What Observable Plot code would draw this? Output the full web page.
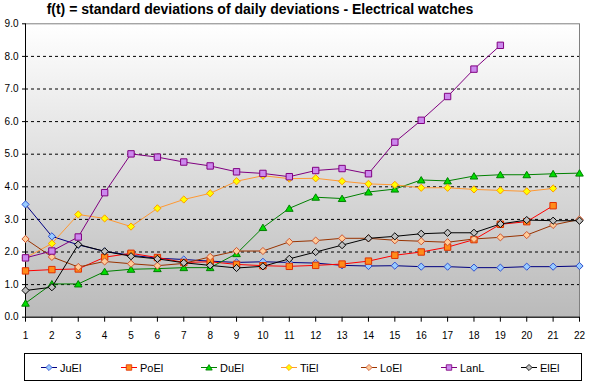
<!DOCTYPE html>
<html><head><meta charset="utf-8">
<script src="https://cdn.jsdelivr.net/npm/d3@7"></script>
<script src="https://cdn.jsdelivr.net/npm/@observablehq/plot@0.6"></script>
<style>
body{margin:0;background:#fff;font-family:"Liberation Sans",Arial,sans-serif}
#title{height:15px;line-height:18px;font-weight:bold;font-size:14px;width:520px;text-align:center;white-space:nowrap}
#legend{margin-left:24px;margin-top:3px;width:556px;height:26px;border:1px solid #000}
#legend svg{display:block}
</style></head>
<body>
<div id="title">f(t) = standard deviations of daily deviations - Electrical watches</div>
<div id="chart"></div>
<div id="legend"></div>
<script>
const days = [1,2,3,4,5,6,7,8,9,10,11,12,13,14,15,16,17,18,19,20,21,22];
const yTicks = [0,1,2,3,4,5,6,7,8,9];
const gridVals = [1,2,3,4,5,6,7,8];
const seriesNames = ["JuEl","PoEl","DuEl","TiEl","LoEl","LanL","ElEl"];
const JuEl = [3.46,2.48,2.22,2.02,1.90,1.81,1.77,1.72,1.68,1.70,1.68,1.66,1.59,1.57,1.58,1.55,1.55,1.52,1.52,1.55,1.55,1.57];
const PoEl = [1.42,1.46,1.48,1.84,1.96,1.83,1.68,1.70,1.62,1.58,1.56,1.59,1.63,1.72,1.90,2.00,2.15,2.38,2.85,2.93,3.42];
const DuEl = [0.43,1.02,1.02,1.40,1.47,1.49,1.52,1.52,1.95,2.75,3.34,3.68,3.64,3.84,3.93,4.21,4.18,4.33,4.37,4.37,4.40,4.42];
const TiEl = [1.82,2.26,3.15,3.03,2.78,3.34,3.61,3.80,4.17,4.34,4.25,4.26,4.17,4.09,4.06,3.97,3.97,3.92,3.89,3.86,3.95];
const LoEl = [2.40,1.85,1.54,1.71,1.64,1.58,1.65,1.85,2.03,2.03,2.31,2.35,2.42,2.42,2.36,2.33,2.30,2.40,2.45,2.52,2.83,3.00];
const LanL = [1.82,2.03,2.46,3.82,5.01,4.91,4.76,4.64,4.46,4.41,4.31,4.50,4.56,4.40,5.37,6.04,6.77,7.61,8.34];
const ElEl = [0.82,0.92,2.23,2.02,1.87,1.79,1.67,1.59,1.51,1.56,1.79,2.00,2.21,2.42,2.48,2.56,2.59,2.59,2.86,2.98,2.96,2.96];
const seriesValues = [JuEl,PoEl,DuEl,TiEl,LoEl,LanL,ElEl];

const diamond = {draw(c){c.moveTo(0,-3.6);c.lineTo(3.6,0);c.lineTo(0,3.6);c.lineTo(-3.6,0);c.closePath();}};
const square = {draw(c){c.moveTo(-3.2,-3.2);c.lineTo(3.2,-3.2);c.lineTo(3.2,3.2);c.lineTo(-3.2,3.2);c.closePath();}};
const triangle = {draw(c){c.moveTo(0,-3.4);c.lineTo(3.8,3);c.lineTo(-3.8,3);c.closePath();}};

const styles = [
  {line:"#000080", fill:"#99ccff", stroke:"#3050d0", sym:diamond},
  {line:"#ff0000", fill:"#ff8c1a", stroke:"#e03000", sym:square},
  {line:"#008000", fill:"#00dd00", stroke:"#008000", sym:triangle},
  {line:"#ff9933", fill:"#ffff00", stroke:"#ff9900", sym:diamond},
  {line:"#993300", fill:"#ffcc99", stroke:"#cc5533", sym:diamond},
  {line:"#800080", fill:"#cc88ee", stroke:"#800080", sym:square},
  {line:"#000000", fill:"#c0c0c0", stroke:"#000000", sym:diamond}
];

const seriesMarks = [];
seriesNames.forEach((name,k)=>{
  const data = seriesValues[k].map((v,i)=>({day:days[i], value:v}));
  const s = styles[k];
  seriesMarks.push(Plot.line(data,{x:"day",y:"value",stroke:s.line,strokeWidth:1}));
  seriesMarks.push(Plot.dot(data,{x:"day",y:"value",symbol:s.sym,r:3,fill:s.fill,stroke:s.stroke,strokeWidth:1}));
});

const chart = Plot.plot({
  width:590, height:335,
  marginTop:8.3, marginBottom:33.3, marginLeft:25, marginRight:11,
  x:{domain:[1,22], label:null},
  y:{domain:[0,9], label:null},
  style:{fontFamily:"Liberation Sans, Arial, sans-serif", fontSize:"10px", background:"transparent", color:"black", overflow:"visible"},
  marks:[
    Plot.frame({fill:"url(#bg)", stroke:"#808080"}),
    Plot.ruleY(gridVals,{stroke:"black", strokeDasharray:"3,3"}),
    Plot.axisX({ticks:days, tickSize:5, tickPadding:10, tickFormat:d=>String(d), label:null}),
    Plot.axisY({ticks:yTicks, tickSize:3, tickPadding:4, tickFormat:d3.format(".1f"), label:null}),
    Plot.ruleX([1],{stroke:"black"}),
    Plot.ruleY([0],{stroke:"black"}),
    ...seriesMarks
  ]
});
const defs = d3.select(chart).insert("defs",":first-child");
const g = defs.append("linearGradient").attr("id","bg").attr("x1",0).attr("y1",0).attr("x2",0).attr("y2",1);
g.append("stop").attr("offset","0%").attr("stop-color","#ffffff");
g.append("stop").attr("offset","100%").attr("stop-color","#bababa");
document.getElementById("chart").appendChild(chart);

// legend
const lg = d3.select("#legend").append("svg").attr("width",556).attr("height",26);
seriesNames.forEach((name,k)=>{
  const s = styles[k];
  const cx = 24 + 80*k, cy = 13.5;
  lg.append("line").attr("x1",cx-8).attr("x2",cx+8).attr("y1",cy).attr("y2",cy).attr("stroke",s.line);
  lg.append("path").attr("d",d3.symbol().type(s.sym)()).attr("transform",`translate(${cx},${cy}) scale(0.85)`).attr("fill",s.fill).attr("stroke",s.stroke);
  lg.append("text").attr("x",cx+11).attr("y",cy+4).attr("font-size",11).attr("font-family","Liberation Sans, Arial, sans-serif").text(name);
});
</script>
</body></html>
